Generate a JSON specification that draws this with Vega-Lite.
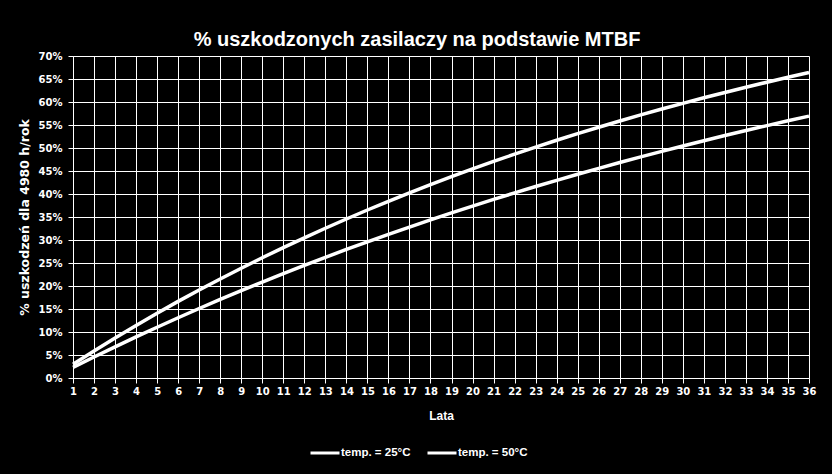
{
  "$schema": "https://vega.github.io/schema/vega-lite/v6.json",
  "autosize": "none",
  "width": 736,
  "height": 322,
  "padding": {"left": 73, "top": 56, "right": 23, "bottom": 96},
  "background": "#000000",
  "title": {
    "text": "% uszkodzonych zasilaczy na podstawie MTBF",
    "font": "Liberation Sans",
    "fontSize": 20,
    "fontWeight": "bold",
    "color": "#ffffff",
    "anchor": "middle",
    "frame": "bounds",
    "offset": 1
  },
  "config": {
    "view": {"stroke": null},
    "axis": {
      "domainColor": "#ffffff",
      "tickColor": "#ffffff",
      "gridColor": "#ffffff",
      "gridOpacity": 1,
      "gridWidth": 1,
      "tickSize": 5,
      "labelColor": "#ffffff",
      "labelFont": "DejaVu Sans",
      "labelFontWeight": "bold",
      "labelFontSize": 10,
      "titleColor": "#ffffff"
    }
  },
  "data": {
    "values": [
      {"lata": 1, "temp": "temp. = 25°C", "val": 0.0231},
      {"lata": 2, "temp": "temp. = 25°C", "val": 0.0457},
      {"lata": 3, "temp": "temp. = 25°C", "val": 0.0678},
      {"lata": 4, "temp": "temp. = 25°C", "val": 0.0894},
      {"lata": 5, "temp": "temp. = 25°C", "val": 0.1104},
      {"lata": 6, "temp": "temp. = 25°C", "val": 0.1310},
      {"lata": 7, "temp": "temp. = 25°C", "val": 0.1511},
      {"lata": 8, "temp": "temp. = 25°C", "val": 0.1707},
      {"lata": 9, "temp": "temp. = 25°C", "val": 0.1899},
      {"lata": 10, "temp": "temp. = 25°C", "val": 0.2086},
      {"lata": 11, "temp": "temp. = 25°C", "val": 0.2269},
      {"lata": 12, "temp": "temp. = 25°C", "val": 0.2448},
      {"lata": 13, "temp": "temp. = 25°C", "val": 0.2623},
      {"lata": 14, "temp": "temp. = 25°C", "val": 0.2794},
      {"lata": 15, "temp": "temp. = 25°C", "val": 0.2960},
      {"lata": 16, "temp": "temp. = 25°C", "val": 0.3123},
      {"lata": 17, "temp": "temp. = 25°C", "val": 0.3282},
      {"lata": 18, "temp": "temp. = 25°C", "val": 0.3437},
      {"lata": 19, "temp": "temp. = 25°C", "val": 0.3589},
      {"lata": 20, "temp": "temp. = 25°C", "val": 0.3737},
      {"lata": 21, "temp": "temp. = 25°C", "val": 0.3882},
      {"lata": 22, "temp": "temp. = 25°C", "val": 0.4024},
      {"lata": 23, "temp": "temp. = 25°C", "val": 0.4162},
      {"lata": 24, "temp": "temp. = 25°C", "val": 0.4297},
      {"lata": 25, "temp": "temp. = 25°C", "val": 0.4429},
      {"lata": 26, "temp": "temp. = 25°C", "val": 0.4558},
      {"lata": 27, "temp": "temp. = 25°C", "val": 0.4684},
      {"lata": 28, "temp": "temp. = 25°C", "val": 0.4807},
      {"lata": 29, "temp": "temp. = 25°C", "val": 0.4927},
      {"lata": 30, "temp": "temp. = 25°C", "val": 0.5044},
      {"lata": 31, "temp": "temp. = 25°C", "val": 0.5159},
      {"lata": 32, "temp": "temp. = 25°C", "val": 0.5271},
      {"lata": 33, "temp": "temp. = 25°C", "val": 0.5380},
      {"lata": 34, "temp": "temp. = 25°C", "val": 0.5487},
      {"lata": 35, "temp": "temp. = 25°C", "val": 0.5591},
      {"lata": 36, "temp": "temp. = 25°C", "val": 0.5693},
      {"lata": 1, "temp": "temp. = 50°C", "val": 0.0298},
      {"lata": 2, "temp": "temp. = 50°C", "val": 0.0588},
      {"lata": 3, "temp": "temp. = 50°C", "val": 0.0869},
      {"lata": 4, "temp": "temp. = 50°C", "val": 0.1142},
      {"lata": 5, "temp": "temp. = 50°C", "val": 0.1406},
      {"lata": 6, "temp": "temp. = 50°C", "val": 0.1666},
      {"lata": 7, "temp": "temp. = 50°C", "val": 0.1913},
      {"lata": 8, "temp": "temp. = 50°C", "val": 0.2153},
      {"lata": 9, "temp": "temp. = 50°C", "val": 0.2386},
      {"lata": 10, "temp": "temp. = 50°C", "val": 0.2614},
      {"lata": 11, "temp": "temp. = 50°C", "val": 0.2834},
      {"lata": 12, "temp": "temp. = 50°C", "val": 0.3048},
      {"lata": 13, "temp": "temp. = 50°C", "val": 0.3256},
      {"lata": 14, "temp": "temp. = 50°C", "val": 0.3457},
      {"lata": 15, "temp": "temp. = 50°C", "val": 0.3652},
      {"lata": 16, "temp": "temp. = 50°C", "val": 0.3842},
      {"lata": 17, "temp": "temp. = 50°C", "val": 0.4025},
      {"lata": 18, "temp": "temp. = 50°C", "val": 0.4204},
      {"lata": 19, "temp": "temp. = 50°C", "val": 0.4377},
      {"lata": 20, "temp": "temp. = 50°C", "val": 0.4545},
      {"lata": 21, "temp": "temp. = 50°C", "val": 0.4708},
      {"lata": 22, "temp": "temp. = 50°C", "val": 0.4866},
      {"lata": 23, "temp": "temp. = 50°C", "val": 0.5019},
      {"lata": 24, "temp": "temp. = 50°C", "val": 0.5168},
      {"lata": 25, "temp": "temp. = 50°C", "val": 0.5312},
      {"lata": 26, "temp": "temp. = 50°C", "val": 0.5451},
      {"lata": 27, "temp": "temp. = 50°C", "val": 0.5587},
      {"lata": 28, "temp": "temp. = 50°C", "val": 0.5719},
      {"lata": 29, "temp": "temp. = 50°C", "val": 0.5847},
      {"lata": 30, "temp": "temp. = 50°C", "val": 0.5971},
      {"lata": 31, "temp": "temp. = 50°C", "val": 0.6091},
      {"lata": 32, "temp": "temp. = 50°C", "val": 0.6208},
      {"lata": 33, "temp": "temp. = 50°C", "val": 0.6321},
      {"lata": 34, "temp": "temp. = 50°C", "val": 0.6431},
      {"lata": 35, "temp": "temp. = 50°C", "val": 0.6537},
      {"lata": 36, "temp": "temp. = 50°C", "val": 0.6640}
    ]
  },
  "mark": {"type": "line", "strokeWidth": 3.5, "strokeCap": "butt"},
  "encoding": {
    "x": {
      "field": "lata",
      "type": "quantitative",
      "scale": {"domain": [1, 36], "nice": false, "zero": false},
      "axis": {
        "values": [1,2,3,4,5,6,7,8,9,10,11,12,13,14,15,16,17,18,19,20,21,22,23,24,25,26,27,28,29,30,31,32,33,34,35,36],
        "format": "d",
        "labelPadding": 3,
        "labelFlush": false,
        "labelOverlap": false,
        "title": "Lata",
        "titleFont": "Liberation Sans",
        "titleFontSize": 12,
        "titleFontWeight": "bold",
        "titleX": 368,
        "titleY": 37,
        "titleBaseline": "middle",
        "titleAlign": "center"
      }
    },
    "y": {
      "field": "val",
      "type": "quantitative",
      "scale": {"domain": [0, 0.7], "nice": false},
      "axis": {
        "values": [0,0.05,0.1,0.15,0.2,0.25,0.3,0.35,0.4,0.45,0.5,0.55,0.6,0.65,0.7],
        "format": ".0%",
        "labelPadding": 6,
        "labelFlush": false,
        "labelOverlap": false,
        "title": "% uszkodzeń dla 4980 h/rok",
        "titleFont": "DejaVu Sans",
        "titleFontSize": 12.5,
        "titleFontWeight": "bold",
        "titleAngle": 270,
        "titleX": -49,
        "titleY": 161,
        "titleBaseline": "middle",
        "titleAlign": "center"
      }
    },
    "color": {
      "field": "temp",
      "type": "nominal",
      "scale": {"domain": ["temp. = 25°C", "temp. = 50°C"], "range": ["#ffffff", "#ffffff"]},
      "legend": {
        "title": null,
        "orient": "none",
        "direction": "horizontal",
        "legendX": 236,
        "legendY": 381,
        "symbolType": "stroke",
        "symbolSize": 841,
        "symbolStrokeWidth": 3,
        "symbolStrokeColor": "#ffffff",
        "labelOffset": 0,
        "columnPadding": 10,
        "labelColor": "#ffffff",
        "labelFont": "Liberation Sans",
        "labelFontWeight": "bold",
        "labelFontSize": 11.5
      }
    }
  }
}
